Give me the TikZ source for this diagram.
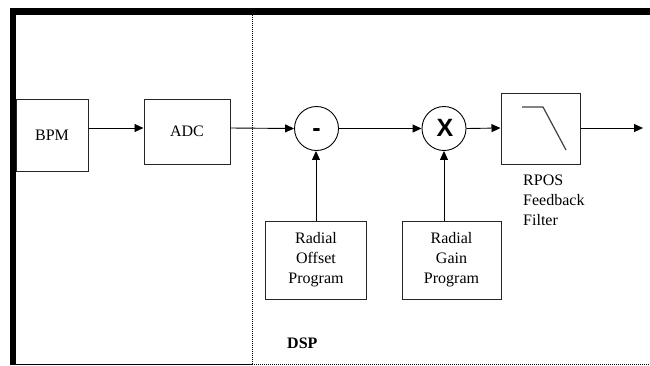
\documentclass[tikz,border=0pt]{standalone}
\usepackage{fontspec}
\setmainfont{Liberation Serif}
\newfontfamily\opfont{Liberation Sans}
\usetikzlibrary{arrows.meta,calc}
\begin{document}
\begin{tikzpicture}[x=1pt,y=-1pt,
  every node/.style={font=\fontsize{16}{20}\selectfont},
  blockbox/.style={draw=black!85,line width=1pt,inner sep=0pt,align=center},
  opcircle/.style={draw=black,line width=0.9pt,circle,minimum size=44pt,inner sep=0pt},
  arr/.style={draw=black,line width=0.9pt,-{Triangle[length=9pt,width=8pt]}},
  wire/.style={draw=black,line width=0.9pt},
  dotline/.style={draw=black,line width=1pt,dash pattern=on 1pt off 1pt}]
\useasboundingbox (0,0) rectangle (650,365);

% frame of the left panel and the DSP area
\fill[black] (10,8) rectangle (650,14.5);
\fill[black] (10,8) rectangle (16,365);
\draw[black,line width=1pt] (16,364) -- (252,364);
\draw[dotline] (252,364) -- (650,364);
\draw[dotline] (252,14.5) -- (252,364);

% signal line level
\coordinate (sig) at (0,128);

% blocks
\node[blockbox,minimum width=72pt,minimum height=72pt] (bpm) at (52,135) {BPM};
\node[blockbox,minimum width=86pt,minimum height=65pt] (adc) at (187,131.5) {ADC};
\node[opcircle] (minus) at (316.5,128.5) {};
\node[font=\opfont\bfseries\fontsize{25}{25}\selectfont,inner sep=0pt] (minussign) at (316.5,132.5) {-};
\node[opcircle] (times) at (444,128.5) {};
\node[font=\opfont\bfseries\fontsize{25}{25}\selectfont,inner sep=0pt] (timessign) at (445,127.5) {X};
\node[blockbox,minimum width=79pt,minimum height=71pt] (filt) at (540.5,128.5) {};
\node[blockbox,minimum width=101pt,minimum height=78pt] (offset) at (316,260) {Radial\\Offset\\Program};
\node[blockbox,minimum width=99pt,minimum height=78pt] (gain) at (451.5,260) {Radial\\Gain\\Program};
\coordinate (out) at (643,128);

% low-pass symbol inside the filter block
\draw[black!75,line width=1.2pt] (522,107) -- (543,107) -- (566,150);

% labels
\node[anchor=north west,inner sep=0pt,align=left] (filtlabel) at (523,174.3) {RPOS\\Feedback\\Filter};
\node[anchor=base west,inner sep=0pt,font=\bfseries\fontsize{16}{20}\selectfont] (dsp) at (287,348) {DSP};

% connectors
\draw[arr] (bpm.east |- sig) -- (adc.west |- sig);
\draw[arr] (adc.east |- sig) -- (minus.west);
\draw[arr] (minus.east) -- (times.west);
\draw[arr] (times.east) -- (filt.west |- sig);
\draw[arr] (filt.east |- sig) -- (out);
\draw[arr] (offset.north) -- (offset.north |- minus.south);
\draw[arr] (times.south |- gain.north) -- (times.south);
\end{tikzpicture}
\end{document}
